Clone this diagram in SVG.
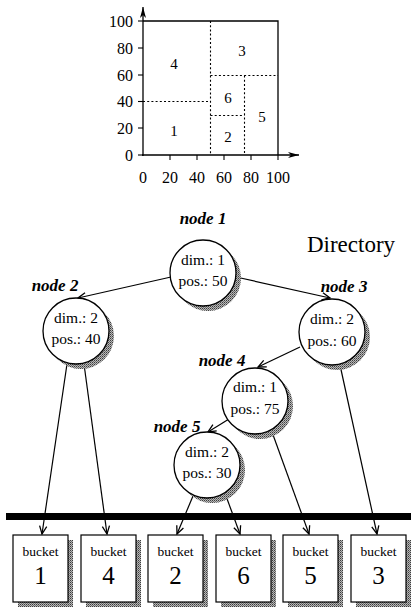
<svg xmlns="http://www.w3.org/2000/svg" width="411" height="608" viewBox="0 0 411 608">
  <defs>
    <pattern id="halftone" width="2" height="2" patternUnits="userSpaceOnUse">
      <rect width="2" height="2" fill="#b8b8b8"/>
      <rect width="1" height="1" fill="#3c3c3c"/>
      <rect x="1" y="1" width="1" height="1" fill="#6e6e6e"/>
    </pattern>
    <marker id="vee" markerUnits="userSpaceOnUse" markerWidth="12" markerHeight="12" viewBox="-9 -6 12 12" refX="0" refY="0" orient="auto">
      <path d="M-8,-3.6 L0,0 L-8,3.6" fill="none" stroke="#000" stroke-width="1.3"/>
    </marker>
    <marker id="axisHead" markerUnits="userSpaceOnUse" markerWidth="14" markerHeight="10" viewBox="-12 -5 14 10" refX="0" refY="0" orient="auto">
      <path d="M-11,-3 L0,0 L-11,3 L-8,0 Z" fill="#000"/>
    </marker>
  </defs>
  <style>
    .axis { stroke: #000; stroke-width: 1.3; fill: none; }
    .frame { stroke: #000; stroke-width: 1.3; fill: none; }
    .split { stroke: #000; stroke-width: 1.1; stroke-dasharray: 2 2.2; fill: none; }
    .tick { stroke: #000; stroke-width: 1.1; }
    .num { font-family: "Liberation Serif", serif; font-size: 16px; fill: #000; }
    .region { font-family: "Liberation Serif", serif; font-size: 15px; fill: #000; text-anchor: middle; }
    .edge { stroke: #000; stroke-width: 1.2; fill: none; marker-end: url(#vee); }
    .shade { fill: url(#halftone); }
    .disc { fill: #fff; stroke: #000; stroke-width: 1.3; }
    .field { font-family: "Liberation Serif", serif; font-size: 15.5px; fill: #000; text-anchor: middle; }
    .name { font-family: "Liberation Serif", serif; font-size: 17px; font-style: italic; font-weight: bold; fill: #000; text-anchor: middle; }
    .box { fill: #fff; stroke: #000; stroke-width: 1.2; }
    .blabel { font-family: "Liberation Serif", serif; font-size: 13.5px; fill: #000; text-anchor: middle; }
    .bnum { font-family: "Liberation Serif", serif; font-size: 25px; fill: #000; text-anchor: middle; }
  </style>

  <!-- Partitioned data space -->
  <g id="plot">
    <line class="axis" x1="143" y1="156" x2="143" y2="7" marker-end="url(#axisHead)"/>
    <line class="axis" x1="142" y1="155" x2="299" y2="155" marker-end="url(#axisHead)"/>
    <g class="tick">
      <line x1="138" y1="21" x2="143" y2="21"/>
      <line x1="138" y1="48" x2="143" y2="48"/>
      <line x1="138" y1="75" x2="143" y2="75"/>
      <line x1="138" y1="101.5" x2="143" y2="101.5"/>
      <line x1="138" y1="128" x2="143" y2="128"/>
      <line x1="138" y1="155" x2="143" y2="155"/>
      <line x1="170" y1="155" x2="170" y2="160"/>
      <line x1="197" y1="155" x2="197" y2="160"/>
      <line x1="224" y1="155" x2="224" y2="160"/>
      <line x1="251" y1="155" x2="251" y2="160"/>
      <line x1="278" y1="155" x2="278" y2="160"/>
    </g>
    <g class="num" text-anchor="end">
      <text x="133" y="27">100</text>
      <text x="133" y="54">80</text>
      <text x="133" y="81">60</text>
      <text x="133" y="107">40</text>
      <text x="133" y="134">20</text>
      <text x="133" y="161">0</text>
    </g>
    <g class="num" text-anchor="middle">
      <text x="143" y="183">0</text>
      <text x="170" y="183">20</text>
      <text x="197" y="183">40</text>
      <text x="224" y="183">60</text>
      <text x="251" y="183">80</text>
      <text x="278" y="183">100</text>
    </g>
    <path class="frame" d="M143,21 H278 V155"/>
    <path class="split" d="M210.5,21 V155"/>
    <path class="split" d="M143,101.5 H210.5"/>
    <path class="split" d="M210.5,75.5 H278"/>
    <path class="split" d="M244.5,75.5 V155"/>
    <path class="split" d="M210.5,115.5 H244.5"/>
    <text class="region" x="174" y="69">4</text>
    <text class="region" x="242" y="56">3</text>
    <text class="region" x="228" y="103">6</text>
    <text class="region" x="174" y="136">1</text>
    <text class="region" x="228" y="142">2</text>
    <text class="region" x="262" y="122">5</text>
  </g>

  <text x="351" y="252" font-family="Liberation Serif, serif" font-size="23" text-anchor="middle">Directory</text>

  <!-- Tree edges and bucket pointers -->
  <g id="connectors">
    <line class="edge" x1="171" y1="277" x2="78" y2="298"/>
    <line class="edge" x1="236" y1="277" x2="330" y2="298"/>
    <line class="edge" x1="300" y1="347" x2="258" y2="367"/>
    <line class="edge" x1="229" y1="419" x2="208" y2="432"/>
    <line class="edge" x1="67" y1="364" x2="42" y2="534"/>
    <line class="edge" x1="84" y1="364" x2="107" y2="534"/>
    <line class="edge" x1="193" y1="496" x2="177" y2="534"/>
    <line class="edge" x1="226" y1="496" x2="240" y2="534"/>
    <line class="edge" x1="272" y1="432" x2="309" y2="534"/>
    <line class="edge" x1="340" y1="365" x2="377" y2="534"/>
  </g>

  <!-- Directory nodes -->
  <g id="node1">
    <circle class="shade" cx="208" cy="278" r="33"/>
    <circle class="disc" cx="203" cy="273" r="33"/>
    <text class="name" x="203" y="224">node 1</text>
    <text class="field" x="203" y="265">dim.: 1</text>
    <text class="field" x="203" y="286">pos.: 50</text>
  </g>
  <g id="node2">
    <circle class="shade" cx="81" cy="336" r="33"/>
    <circle class="disc" cx="76" cy="331" r="33"/>
    <text class="name" x="55" y="291">node 2</text>
    <text class="field" x="76" y="323">dim.: 2</text>
    <text class="field" x="76" y="344">pos.: 40</text>
  </g>
  <g id="node3">
    <circle class="shade" cx="337" cy="337" r="33"/>
    <circle class="disc" cx="332" cy="332" r="33"/>
    <text class="name" x="344" y="292">node 3</text>
    <text class="field" x="332" y="324">dim.: 2</text>
    <text class="field" x="332" y="346">pos.: 60</text>
  </g>
  <g id="node4">
    <circle class="shade" cx="260" cy="406" r="33"/>
    <circle class="disc" cx="255" cy="401" r="33"/>
    <text class="name" x="222" y="366">node 4</text>
    <text class="field" x="255" y="392">dim.: 1</text>
    <text class="field" x="255" y="414">pos.: 75</text>
  </g>
  <g id="node5">
    <circle class="shade" cx="212" cy="470" r="33"/>
    <circle class="disc" cx="207" cy="465" r="33"/>
    <text class="name" x="177" y="432">node 5</text>
    <text class="field" x="207" y="457">dim.: 2</text>
    <text class="field" x="207" y="478">pos.: 30</text>
  </g>

  <!-- Boundary between directory and data pages -->
  <rect id="separator" x="6" y="513" width="405" height="7" fill="#000"/>

  <!-- Data buckets -->
  <g id="bucket1">
    <rect class="shade" x="18" y="540" width="55" height="67"/>
    <rect class="box" x="13" y="535" width="55" height="67"/>
    <text class="blabel" x="40.5" y="556">bucket</text>
    <text class="bnum" x="40.5" y="584">1</text>
  </g>
  <g id="bucket4">
    <rect class="shade" x="86" y="540" width="55" height="67"/>
    <rect class="box" x="81" y="535" width="55" height="67"/>
    <text class="blabel" x="108.5" y="556">bucket</text>
    <text class="bnum" x="108.5" y="584">4</text>
  </g>
  <g id="bucket2">
    <rect class="shade" x="153" y="540" width="55" height="67"/>
    <rect class="box" x="148" y="535" width="55" height="67"/>
    <text class="blabel" x="175.5" y="556">bucket</text>
    <text class="bnum" x="175.5" y="584">2</text>
  </g>
  <g id="bucket6">
    <rect class="shade" x="221" y="540" width="55" height="67"/>
    <rect class="box" x="216" y="535" width="55" height="67"/>
    <text class="blabel" x="243.5" y="556">bucket</text>
    <text class="bnum" x="243.5" y="584">6</text>
  </g>
  <g id="bucket5">
    <rect class="shade" x="288" y="540" width="55" height="67"/>
    <rect class="box" x="283" y="535" width="55" height="67"/>
    <text class="blabel" x="310.5" y="556">bucket</text>
    <text class="bnum" x="310.5" y="584">5</text>
  </g>
  <g id="bucket3">
    <rect class="shade" x="356" y="540" width="55" height="67"/>
    <rect class="box" x="351" y="535" width="55" height="67"/>
    <text class="blabel" x="378.5" y="556">bucket</text>
    <text class="bnum" x="378.5" y="584">3</text>
  </g>
</svg>
